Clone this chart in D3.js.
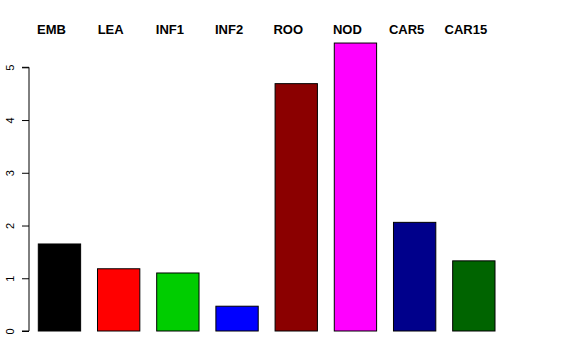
<!DOCTYPE html>
<html>
<head>
<meta charset="utf-8">
<script src="https://cdn.jsdelivr.net/npm/d3@7"></script>
<style>
  html, body { margin: 0; padding: 0; background: #fff; }
  svg { display: block; }
  text { font-family: "Liberation Sans", Arial, Helvetica, sans-serif; }
</style>
</head>
<body>
<svg id="chart" width="576" height="360"></svg>
<script>
const categories = ["EMB", "LEA", "INF1", "INF2", "ROO", "NOD", "CAR5", "CAR15"];
const values = [1.65, 1.18, 1.10, 0.47, 4.69, 5.46, 2.06, 1.33];
const colors = ["#000000", "#FF0000", "#00CD00", "#0000FF", "#8B0000", "#FF00FF", "#00008B", "#006400"];
const yTicks = [0, 1, 2, 3, 4, 5];

const svg = d3.select("#chart");

const x = d3.scaleBand()
  .domain(categories)
  .range([38.3, 495])
  .paddingInner(0.285)
  .paddingOuter(0);

const y = d3.scaleLinear()
  .domain([0, 5])
  .range([331, 67.3]);

// bars
svg.append("g")
  .selectAll("rect")
  .data(categories)
  .join("rect")
  .attr("x", d => x(d))
  .attr("y", (d, i) => y(values[i]))
  .attr("width", x.bandwidth())
  .attr("height", (d, i) => y(0) - y(values[i]))
  .attr("fill", (d, i) => colors[i])
  .attr("stroke", "#000")
  .attr("stroke-width", 1);

// y axis
const yAxis = d3.axisLeft(y)
  .tickValues(yTicks)
  .tickFormat(d3.format("d"))
  .tickSize(7)
  .tickPadding(5);

const gy = svg.append("g")
  .attr("transform", "translate(29,0)")
  .call(yAxis);
gy.select(".domain").attr("stroke", "#000").attr("d", `M-7,${y(5)}H0V${y(0)}H-7`);
gy.selectAll(".tick line").attr("stroke", "#000");
gy.selectAll(".tick text")
  .attr("font-size", 11)
  .attr("fill", "#000")
  .attr("text-anchor", "middle")
  .attr("x", 0)
  .attr("y", 0)
  .attr("dy", 0)
  .attr("transform", "translate(-15,0) rotate(-90)");
gy.attr("font-family", null);

// category labels on top
svg.append("g")
  .selectAll("text")
  .data(categories)
  .join("text")
  .attr("x", d => x(d) + x.bandwidth() / 2 - 8)
  .attr("y", 34)
  .attr("text-anchor", "middle")
  .attr("font-size", 13)
  .attr("font-weight", "bold")
  .attr("fill", "#000")
  .text(d => d);
</script>
</body>
</html>
